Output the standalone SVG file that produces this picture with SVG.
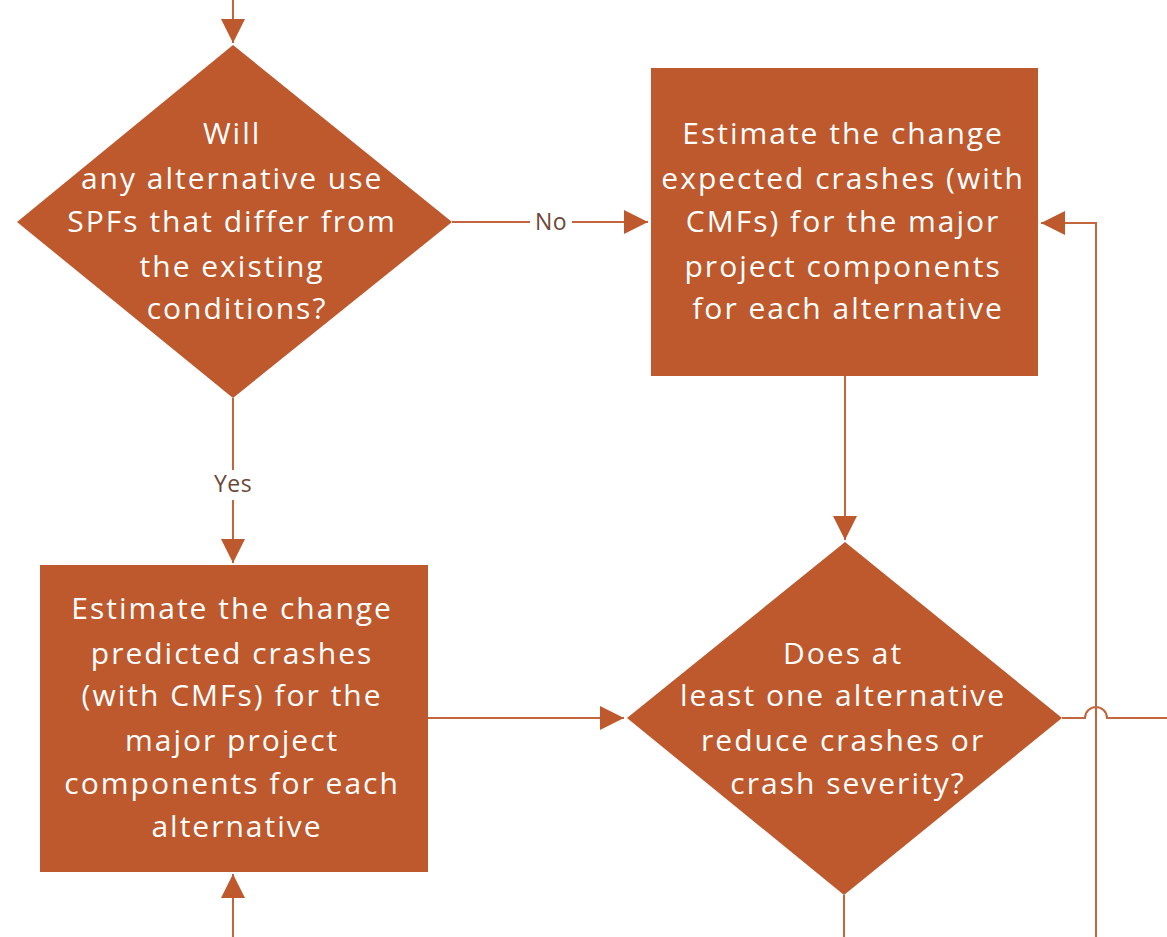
<svg xmlns="http://www.w3.org/2000/svg" width="1167" height="937" viewBox="0 0 1167 937">
  <style>
    .shape { fill: #BE582D; }
    .label { fill: #FFFFFF; font-family: "Open Sans", "Noto Sans", sans-serif; font-size: 30px; letter-spacing: 2px; text-anchor: middle; }
    .edge { fill: none; stroke: #C4663D; stroke-width: 2; }
    .elabel { fill: #6E4636; font-family: "Open Sans", "Noto Sans", sans-serif; font-size: 23px; letter-spacing: 0.5px; text-anchor: middle; }
  </style>
  <defs>
    <marker id="arrow" markerUnits="userSpaceOnUse" markerWidth="24" markerHeight="24" viewBox="0 0 22 22" refX="22" refY="11" orient="auto">
      <path d="M0,0 L22,11 L0,22 Z" fill="#BE582D"/>
    </marker>
  </defs>
  <rect width="1167" height="937" fill="#FFFFFF"/>

  <!-- connectors -->
  <g id="connectors">
    <path class="edge" d="M233,0 V43" marker-end="url(#arrow)"/>
    <path class="edge" d="M452,222 H530 M572,222 H648" marker-end="url(#arrow)"/>
    <path class="edge" d="M233,398 V470 M233,500 V563" marker-end="url(#arrow)"/>
    <path class="edge" d="M845,376 V540" marker-end="url(#arrow)"/>
    <path class="edge" d="M428,718 H624" marker-end="url(#arrow)"/>
    <path class="edge" d="M233,937 V874" marker-end="url(#arrow)"/>
    <path class="edge" d="M844,895 V937"/>
    <path class="edge" d="M1062,718 H1085 A11,11 0 0 1 1107,718 H1167"/>
    <path class="edge" d="M1096,937 V223 H1041" marker-end="url(#arrow)"/>
    <rect x="530" y="208" width="42" height="28" fill="#FFFFFF"/>
    <text class="elabel" x="551" y="230">No</text>
    <rect x="210" y="470" width="46" height="30" fill="#FFFFFF"/>
    <text class="elabel" x="233" y="492">Yes</text>
  </g>

  <!-- decision: SPFs -->
  <g id="decision-spf">
    <polygon class="shape" points="233,45 452,222 233,398 17,222"/>
    <text class="label">
      <tspan x="237" y="144">Will</tspan>
      <tspan x="237" y="189">any alternative use</tspan>
      <tspan x="237" y="232">SPFs that differ from</tspan>
      <tspan x="237" y="277">the existing</tspan>
      <tspan x="237" y="319">conditions?</tspan>
    </text>
  </g>

  <!-- process: expected crashes -->
  <g id="process-expected">
    <rect class="shape" x="651" y="68" width="387" height="308"/>
    <text class="label">
      <tspan x="848" y="144">Estimate the change</tspan>
      <tspan x="848" y="189">expected crashes (with</tspan>
      <tspan x="848" y="232">CMFs) for the major</tspan>
      <tspan x="848" y="277">project components</tspan>
      <tspan x="848" y="319">for each alternative</tspan>
    </text>
  </g>

  <!-- process: predicted crashes -->
  <g id="process-predicted">
    <rect class="shape" x="40" y="565" width="388" height="307"/>
    <text class="label">
      <tspan x="237" y="619">Estimate the change</tspan>
      <tspan x="237" y="664">predicted crashes</tspan>
      <tspan x="237" y="706">(with CMFs) for the</tspan>
      <tspan x="237" y="751">major project</tspan>
      <tspan x="237" y="794">components for each</tspan>
      <tspan x="237" y="837">alternative</tspan>
    </text>
  </g>

  <!-- decision: crash reduction -->
  <g id="decision-reduce">
    <polygon class="shape" points="845,542 1062,718 844,895 627,718"/>
    <text class="label">
      <tspan x="848" y="664">Does at</tspan>
      <tspan x="848" y="706">least one alternative</tspan>
      <tspan x="848" y="751">reduce crashes or</tspan>
      <tspan x="848" y="794">crash severity?</tspan>
    </text>
  </g>
</svg>
